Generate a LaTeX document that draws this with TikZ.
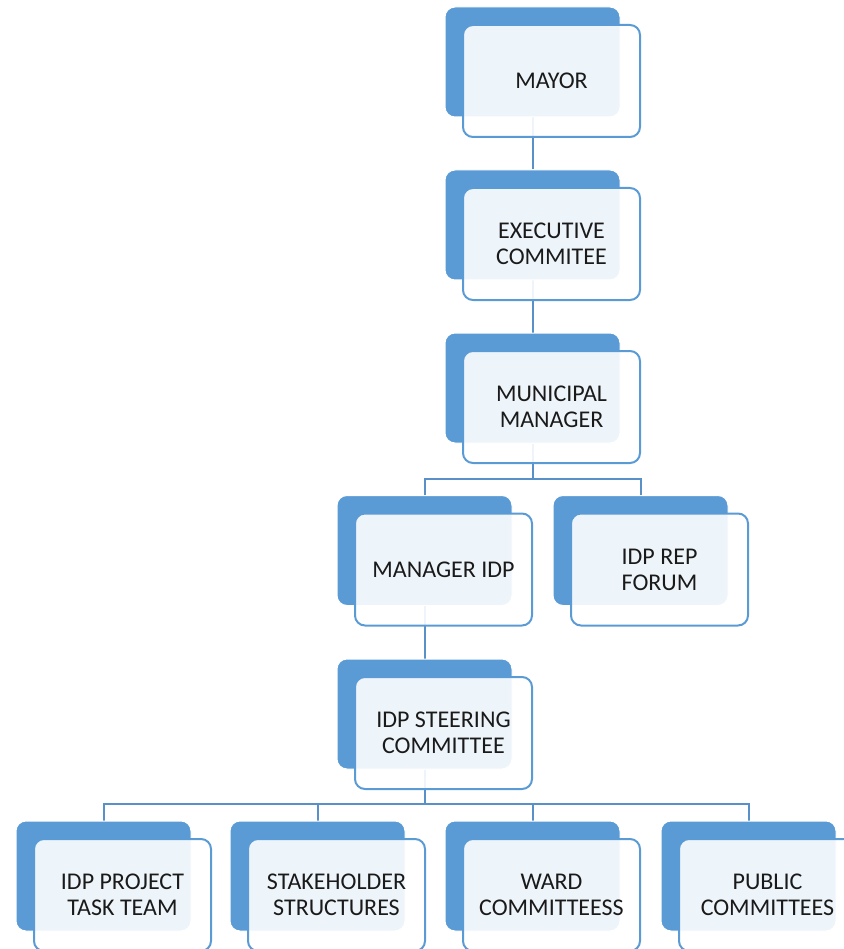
\documentclass[tikz,border=0pt]{standalone}
\usepackage{fontspec}
\setmainfont{Carlito}
\usetikzlibrary{backgrounds}
\definecolor{accblue}{HTML}{5B9BD5}
\definecolor{linkblue}{HTML}{5A90C8}
\definecolor{txt}{HTML}{1A1A1A}
\tikzset{
  backbox/.style={rectangle, rounded corners=10pt, fill=accblue, draw=white, line width=1pt,
    minimum width=175pt, minimum height=110pt, inner sep=0pt},
  frontbox/.style={rectangle, rounded corners=10pt, fill=white, fill opacity=0.9, text opacity=1,
    draw=accblue, line width=2pt, minimum width=177pt, minimum height=112pt, inner sep=0pt,
    align=center, text=txt, font=\fontsize{24}{26}\selectfont},
  link/.style={draw=linkblue, line width=2pt}
}
\begin{document}
\begin{tikzpicture}[x=1pt,y=-1pt]
\useasboundingbox (0,0) rectangle (843,949);
% back boxes
\node[backbox] (mayorB) at (532.5,62) {};
\node[backbox] (execB) at (532.5,225) {};
\node[backbox] (munB) at (532.5,388) {};
\node[backbox] (mgrB) at (424.5,550.5) {};
\node[backbox] (repB) at (640.5,550.5) {};
\node[backbox] (steerB) at (424.5,714) {};
\node[backbox] (taskB) at (103.5,876) {};
\node[backbox] (stakeB) at (317.5,876) {};
\node[backbox] (wardB) at (532.5,876) {};
\node[backbox] (pubB) at (748.5,876) {};
% front boxes
\node[frontbox] (mayor) at (551.5,81) {MAYOR};
\node[frontbox] (exec) at (551.5,244) {EXECUTIVE\\COMMITEE};
\node[frontbox] (mun) at (551.5,407) {MUNICIPAL\\MANAGER};
\node[frontbox] (mgr) at (443.5,569.5) {MANAGER IDP};
\node[frontbox] (rep) at (659.5,569.5) {IDP REP\\FORUM};
\node[frontbox] (steer) at (443.5,733) {IDP STEERING\\COMMITTEE};
\node[frontbox] (task) at (122.5,895) {IDP PROJECT\\TASK TEAM};
\node[frontbox] (stake) at (336.5,895) {STAKEHOLDER\\STRUCTURES};
\node[frontbox] (ward) at (551.5,895) {WARD\\COMMITTEESS};
\node[frontbox] (pub) at (767.5,895) {PUBLIC\\COMMITTEES};
% connectors
\begin{pgfonlayer}{background}
\draw[link] (mayorB.south) -- (execB.north);
\draw[link] (execB.south) -- (munB.north);
\draw[link] (munB.south) -- ++(0,35) -| (mgrB.north);
\draw[link] (munB.south) -- ++(0,35) -| (repB.north);
\draw[link] (mgrB.south) -- (steerB.north);
\draw[link] (steerB.south) -- ++(0,34) -| (taskB.north);
\draw[link] (steerB.south) -- ++(0,34) -| (stakeB.north);
\draw[link] (steerB.south) -- ++(0,34) -| (wardB.north);
\draw[link] (steerB.south) -- ++(0,34) -| (pubB.north);
\end{pgfonlayer}
\end{tikzpicture}
\end{document}
